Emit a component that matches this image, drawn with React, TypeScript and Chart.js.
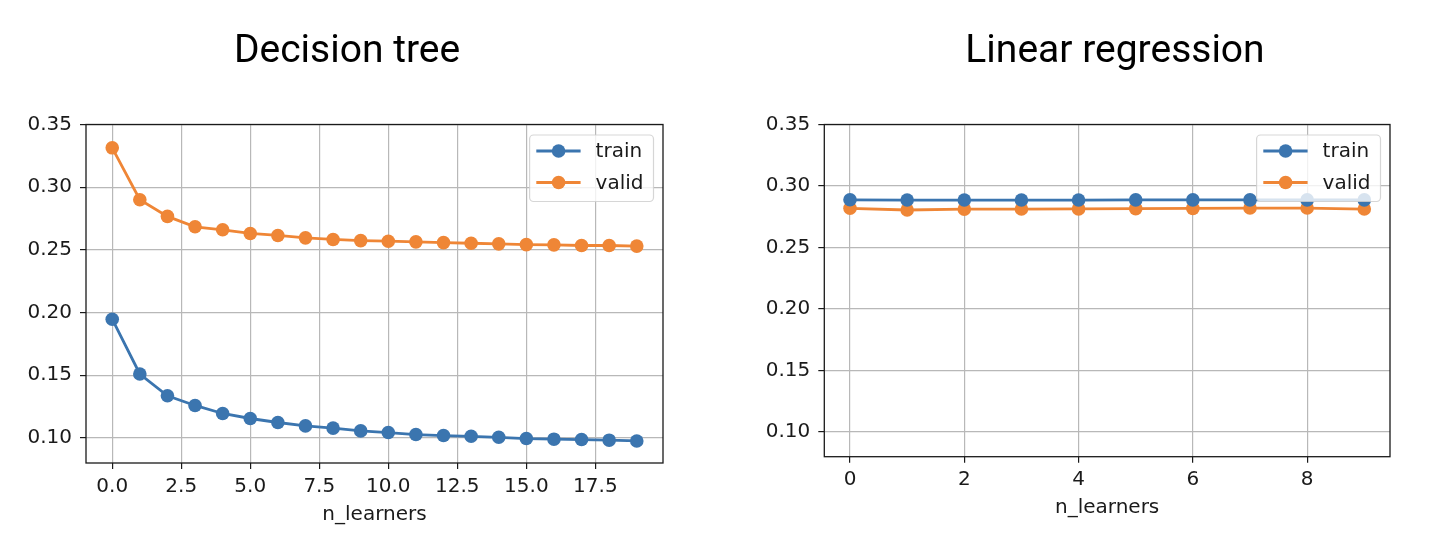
import React, { useEffect, useRef } from 'react';
import { Chart, registerables } from 'chart.js';

Chart.register(...registerables);

// ---------- data ----------
const dtLearners = [0, 1, 2, 3, 4, 5, 6, 7, 8, 9, 10, 11, 12, 13, 14, 15, 16, 17, 18, 19];
const dtTrain = [0.1947, 0.151, 0.1336, 0.1259, 0.1195, 0.1155, 0.1123, 0.1096, 0.1078, 0.1056,
  0.1043, 0.1027, 0.1019, 0.1013, 0.1005, 0.0995, 0.099, 0.0987, 0.0982, 0.0976];
const dtValid = [0.3314, 0.29, 0.2767, 0.2684, 0.266, 0.2631, 0.2615, 0.2596, 0.2583, 0.2574,
  0.2569, 0.2564, 0.2558, 0.2553, 0.2548, 0.2542, 0.254, 0.2535, 0.2535, 0.253];

const lrLearners = [0, 1, 2, 3, 4, 5, 6, 7, 8, 9];
const lrTrain = [0.2888, 0.2886, 0.2886, 0.2886, 0.2886, 0.2887, 0.2887, 0.2887, 0.2887, 0.2887];
const lrValid = [0.2819, 0.2805, 0.2812, 0.2813, 0.2814, 0.2816, 0.2818, 0.2821, 0.2821, 0.2813];

const dtXTicks = [0, 2.5, 5, 7.5, 10, 12.5, 15, 17.5];
const lrXTicks = [0, 2, 4, 6, 8];
const yTicks = [0.1, 0.15, 0.2, 0.25, 0.3, 0.35];

const yRange = [0.08, 0.35];
const dtXRange = [-0.95, 19.95];
const lrXRange = [-0.45, 9.45];

const seriesLabels = ['train', 'valid'];
const titles = ['Decision tree', 'Linear regression'];
const xAxisTitle = 'n_learners';

// ---------- styles ----------
const BLUE = '#3b75af';
const ORANGE = '#ef8636';
const TEXT = '#1a1a1a';
const GRID = '#b8b8b8';
const FONT_SIZE = 20;
const TICK_FONT = { family: '"DejaVu Sans", sans-serif', size: FONT_SIZE };

const framePlugin = {
  id: 'frame',
  afterDatasetsDraw(chart: any) {
    const { ctx, chartArea: a } = chart;
    ctx.save();
    ctx.strokeStyle = TEXT;
    ctx.lineWidth = 1.3;
    ctx.strokeRect(a.left, a.top, a.right - a.left, a.bottom - a.top);
    ctx.restore();
  },
};

const legendPlugin = {
  id: 'boxLegend',
  afterDraw(chart: any) {
    const { ctx, chartArea: a } = chart;
    const ds = chart.data.datasets;
    ctx.save();
    ctx.font = FONT_SIZE + 'px "DejaVu Sans", sans-serif';
    const textW = Math.max(...ds.map((d: any) => ctx.measureText(d.label).width));
    const w = 66 + textW + 10;
    const h = 66.5;
    const x = a.right - 9.5 - w;
    const y = a.top + 10.5;
    ctx.beginPath();
    if ((ctx as any).roundRect) (ctx as any).roundRect(x, y, w, h, 4);
    else ctx.rect(x, y, w, h);
    ctx.fillStyle = 'rgba(255,255,255,0.8)';
    ctx.fill();
    ctx.strokeStyle = 'rgba(204,204,204,0.8)';
    ctx.lineWidth = 1.2;
    ctx.stroke();
    ds.forEach((d: any, i: number) => {
      const cy = y + 16 + i * 31.5;
      ctx.strokeStyle = d.borderColor;
      ctx.lineWidth = 2.8;
      ctx.beginPath();
      ctx.moveTo(x + 6.7, cy);
      ctx.lineTo(x + 51, cy);
      ctx.stroke();
      ctx.fillStyle = d.borderColor;
      ctx.beginPath();
      ctx.arc(x + 29, cy, 6.8, 0, Math.PI * 2);
      ctx.fill();
      ctx.fillStyle = TEXT;
      ctx.textBaseline = 'middle';
      ctx.textAlign = 'left';
      ctx.fillText(d.label, x + 66, cy + 1);
    });
    ctx.restore();
  },
};

type PanelProps = {
  title: string;
  xs: number[];
  train: number[];
  valid: number[];
  xRange: number[];
  xTicks: number[];
  xDecimals: number;
  left: number;
  width: number;
  yAxisWidth: number;
  padRight: number;
  xAxisHeight: number;
  xTitlePad: number;
};

function Panel(p: PanelProps) {
  const ref = useRef<HTMLCanvasElement | null>(null);
  useEffect(() => {
    if (!ref.current) return;
    const mk = (vals: number[]) => p.xs.map((x, i) => ({ x, y: vals[i] }));
    const dsStyle = (color: string) => ({
      borderColor: color,
      backgroundColor: color,
      pointBackgroundColor: color,
      pointBorderWidth: 0,
      pointRadius: 6.8,
      borderWidth: 2.8,
      tension: 0,
      fill: false,
    });
    const chart = new Chart(ref.current, {
      type: 'line',
      data: {
        datasets: [
          { label: seriesLabels[0], data: mk(p.train), ...dsStyle(BLUE) },
          { label: seriesLabels[1], data: mk(p.valid), ...dsStyle(ORANGE) },
        ],
      },
      options: {
        animation: false,
        responsive: false,
        events: [],
        layout: { padding: 0 },
        plugins: {
          legend: { display: false },
          tooltip: { enabled: false },
          title: {
            display: true,
            text: p.title,
            color: '#000',
            font: { family: 'Roboto', size: 39, weight: '400' as any },
            padding: { top: 28.6, bottom: 49.1 },
          },
        },
        scales: {
          x: {
            type: 'linear',
            position: 'bottom',
            min: p.xRange[0],
            max: p.xRange[1],
            afterBuildTicks: (s: any) => {
              s.ticks = p.xTicks.map((v) => ({ value: v }));
            },
            afterFit: (s: any) => {
              s.height = p.xAxisHeight;
            },
            ticks: {
              font: TICK_FONT,
              color: TEXT,
              padding: 5.5,
              maxRotation: 0,
              autoSkip: false,
              callback: (v: any) => Number(v).toFixed(p.xDecimals),
            },
            grid: {
              color: GRID,
              lineWidth: 1.2,
              drawTicks: true,
              tickLength: 6,
              tickColor: TEXT,
              tickWidth: 1.2,
            },
            border: { display: false },
            title: {
              display: true,
              text: xAxisTitle,
              color: TEXT,
              font: TICK_FONT,
              padding: { top: 0, bottom: p.xTitlePad },
            },
          },
          y: {
            type: 'linear',
            position: 'left',
            min: yRange[0],
            max: yRange[1],
            afterBuildTicks: (s: any) => {
              s.ticks = yTicks.map((v) => ({ value: v }));
            },
            afterFit: (s: any) => {
              s.width = p.yAxisWidth;
            },
            ticks: {
              font: TICK_FONT,
              color: TEXT,
              padding: 8,
              autoSkip: false,
              callback: (v: any) => Number(v).toFixed(2),
            },
            grid: {
              color: GRID,
              lineWidth: 1.2,
              drawTicks: true,
              tickLength: 6,
              tickColor: TEXT,
              tickWidth: 1.2,
            },
            border: { display: false },
          },
          pad: {
            type: 'linear',
            position: 'right',
            display: true,
            grid: { display: false, drawTicks: false },
            border: { display: false },
            ticks: { display: false },
            afterFit: (s: any) => {
              s.width = p.padRight;
            },
          },
        },
      } as any,
      plugins: [framePlugin, legendPlugin],
    });
    return () => chart.destroy();
  }, []);
  return (
    <canvas
      ref={ref}
      width={p.width}
      height={552}
      style={{ position: 'absolute', left: p.left, top: 0, width: p.width, height: 552, display: 'block' }}
    />
  );
}

export default function App() {
  return (
    <div
      style={{
        position: 'absolute',
        left: 0,
        top: 0,
        width: 1430,
        height: 552,
        overflow: 'hidden',
        background: '#fff',
      }}
    >
      <Panel
        title={titles[0]}
        xs={dtLearners}
        train={dtTrain}
        valid={dtValid}
        xRange={dtXRange}
        xTicks={dtXTicks}
        xDecimals={1}
        left={0}
        width={694}
        yAxisWidth={86}
        padRight={31}
        xAxisHeight={89}
        xTitlePad={25.2}
      />
      <Panel
        title={titles[1]}
        xs={lrLearners}
        train={lrTrain}
        valid={lrValid}
        xRange={lrXRange}
        xTicks={lrXTicks}
        xDecimals={0}
        left={760}
        width={710}
        yAxisWidth={64.3}
        padRight={80}
        xAxisHeight={95.3}
        xTitlePad={31.9}
      />
    </div>
  );
}
